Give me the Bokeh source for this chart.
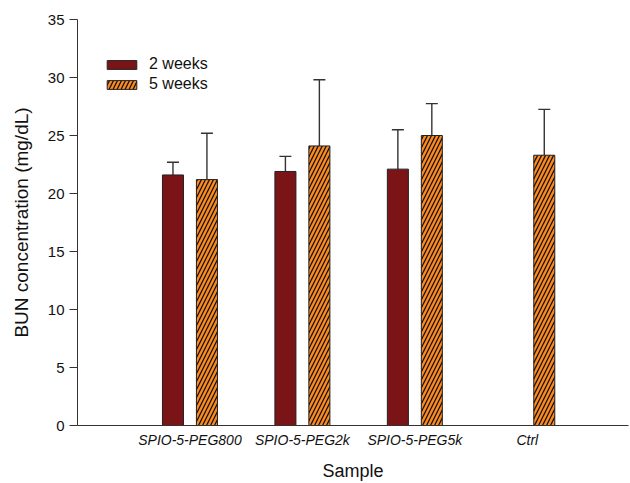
import math
from bokeh.plotting import figure
from bokeh.models import (ColumnDataSource, Range1d, FixedTicker, Whisker, TeeHead,
                          Legend, LegendItem)
from bokeh.embed import file_html
from bokeh.resources import INLINE

# ---- data ----
categories = ["SPIO-5-PEG800", "SPIO-5-PEG2k", "SPIO-5-PEG5k", "Ctrl"]
weeks2_mean = [21.6, 21.9, 22.1, float("nan")]
weeks2_err = [1.1, 1.3, 3.4, float("nan")]
weeks5_mean = [21.2, 24.1, 25.0, 23.3]
weeks5_err = [4.0, 5.7, 2.75, 3.95]
y_ticks = [0, 5, 10, 15, 20, 25, 30, 35]

FONT = "Liberation Sans"
TXT = "#111111"
RED = "#7B1417"
ORANGE = "#FF8A1E"
OFFSET = 0.151
BAR_W = 0.187

def build(means, errs, off):
    xs, tops, ups = [], [], []
    for i, (m, e) in enumerate(zip(means, errs)):
        if m is None or math.isnan(m):
            continue
        xs.append(i + 1 + off)
        tops.append(m)
        ups.append(m + e)
    return ColumnDataSource(dict(x=xs, top=tops, upper=ups))

src2 = build(weeks2_mean, weeks2_err, -OFFSET)
src5 = build(weeks5_mean, weeks5_err, OFFSET)

p = figure(width=630, height=483, output_backend="svg", toolbar_location=None,
           x_range=Range1d(0, 4.9), y_range=Range1d(0, 35),
           min_border_left=77, min_border_right=2, min_border_top=19, min_border_bottom=57)
p.outline_line_color = None
p.grid.visible = False
p.background_fill_color = "white"

# error bars (upper only), drawn behind bars
for src in (src2, src5):
    w = Whisker(source=src, base="x", lower="top", upper="upper", dimension="height",
                line_color="#333333", line_width=1.4, lower_head=None,
                upper_head=TeeHead(size=12, line_color="#333333", line_width=1.4),
                level="underlay")
    p.add_layout(w)

r2 = p.vbar(x="x", top="top", width=BAR_W, source=src2, fill_color=RED,
            line_color="#222222", line_width=1)
r5 = p.vbar(x="x", top="top", width=BAR_W, source=src5, fill_color=ORANGE,
            line_color="#222222", line_width=1, hatch_pattern="/",
            hatch_color="#111111", hatch_scale=8, hatch_weight=1.3)

# axes
yax = p.yaxis[0]
yax.ticker = FixedTicker(ticks=y_ticks)
yax.axis_label = "BUN concentration (mg/dL)"
yax.axis_label_text_font = FONT
yax.axis_label_text_font_style = "normal"
yax.axis_label_text_font_size = "19px"
yax.axis_label_text_color = TXT
yax.axis_label_standoff = 13
yax.major_label_text_font = FONT
yax.major_label_text_font_size = "15px"
yax.major_label_text_color = TXT
yax.major_label_standoff = 5
yax.major_tick_out = 8
yax.major_tick_in = 0
yax.minor_tick_out = 0
yax.minor_tick_in = 0
yax.axis_line_color = "#333333"
yax.major_tick_line_color = "#333333"

xax = p.xaxis[0]
xax.ticker = FixedTicker(ticks=[i + 1 for i in range(len(categories))])
xax.major_label_overrides = {i + 1: c for i, c in enumerate(categories)}
xax.axis_label = "Sample"
xax.axis_label_text_font = FONT
xax.axis_label_text_font_style = "normal"
xax.axis_label_text_font_size = "18px"
xax.axis_label_text_color = TXT
xax.axis_label_standoff = 10
xax.major_label_text_font = FONT
xax.major_label_text_font_style = "italic"
xax.major_label_text_font_size = "14px"
xax.major_label_text_color = TXT
xax.major_label_standoff = 6
xax.major_tick_out = 0
xax.major_tick_in = 0
xax.minor_tick_out = 0
xax.minor_tick_in = 0
xax.axis_line_color = "#333333"

legend = Legend(items=[LegendItem(label="2 weeks", renderers=[r2]),
                       LegendItem(label="5 weeks", renderers=[r5])],
                location=(26, 332), border_line_color=None, background_fill_alpha=0,
                padding=0, margin=0, spacing=2, glyph_width=37, glyph_height=11,
                label_height=11, label_standoff=9, label_text_font=FONT,
                label_text_font_size="16px", label_text_color=TXT)
p.add_layout(legend, "center")

open("out.html", "w").write(file_html(p, INLINE))
